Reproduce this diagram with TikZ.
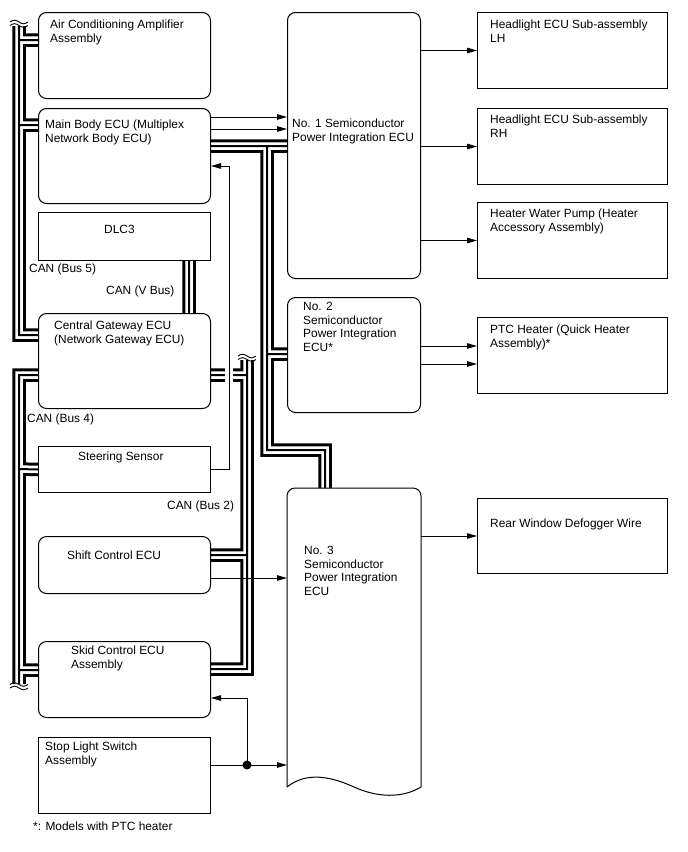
\documentclass[tikz,border=0pt]{standalone}
\usepackage{fontspec}
\setmainfont{Liberation Sans}
\usetikzlibrary{arrows.meta,positioning}
\pgfdeclarelayer{background}
\pgfsetlayers{background,main}
% wavy cut mark at the open end of a bus
\newcommand{\buswave}[1]{\draw[cut] ([xshift=-9pt]#1) sin ++(4.5,-1.8) cos ++(4.5,1.8) sin ++(4.5,1.8) cos ++(4.5,-1.8);}

\begin{document}
\begin{tikzpicture}[x=1pt,y=-1pt,
  ecu/.style={draw,line width=1pt,rounded corners=8pt,fill=white,anchor=north west,inner sep=0pt},
  part/.style={draw,line width=1pt,fill=white,anchor=north west,inner sep=0pt},
  txt/.style={anchor=north west,inner sep=0pt,align=left,font=\fontsize{11.9}{13.7}\selectfont},
  sig/.style={line width=0.9pt,-{Triangle[length=10pt,width=5.5pt]}},
  cut/.style={line width=0.9pt},
  canroutes/.style={insert path={
    (19,26) |- (cgw.west |- 0,335)
    (19,40) -- (acamp.west |- 0,40)
    (19,125) -- (mbecu.west |- 0,125)
    (cgw.west |- 0,375) -| (19,684)
    (19,469) -- (strg.west)
    (19,670) -- (skid.west |- 0,670)
    (dlc.south -| 189,0) -- (cgw.north -| 189,0)
    (247,360) |- (skid.east |- 0,669)
    (cgw.east |- 0,375) -- (247,375)
    (shift.east |- 0,555) -- (247,555)
    (mbecu.east |- 0,146) -- (ipd1.west |- 0,146)
    (267,146) |- (325,450) -- (ipd3.north -| 325,0)
    (267,354) -- (ipd2.west |- 0,354)}}]
\useasboundingbox (0,0) rectangle (688,852);

% left column
\node[ecu,minimum width=172pt,minimum height=86pt] (acamp) at (38,12) {};
\node[ecu,minimum width=172pt,minimum height=95pt] (mbecu) at (38,108) {};
\node[part,minimum width=172pt,minimum height=48pt] (dlc) at (38,212) {};
\node[ecu,minimum width=172pt,minimum height=95pt] (cgw) at (38,313) {};
\node[part,minimum width=172pt,minimum height=46pt] (strg) at (38,446) {};
\node[ecu,minimum width=172pt,minimum height=57pt] (shift) at (38,536) {};
\node[ecu,minimum width=172pt,minimum height=76pt] (skid) at (38,641) {};
\node[part,minimum width=172pt,minimum height=76pt] (stop) at (38,737) {};

% power integration ECUs
\node[ecu,minimum width=133pt,minimum height=266pt] (ipd1) at (287,12) {};
\node[ecu,minimum width=133pt,minimum height=115pt] (ipd2) at (287,297) {};
\node[part,draw=none,minimum width=133pt,minimum height=298pt] (ipd3) at (287,488) {};
\draw[line width=1pt,rounded corners=8pt] (ipd3.south west) -- (ipd3.north west) -- (ipd3.north east) -- (ipd3.south east);
\draw[line width=1pt] (ipd3.south west) .. controls +(20,-16) and +(-22,-10) .. (ipd3.south) .. controls +(22,10) and +(-20,12) .. (ipd3.south east);

% loads
\node[part,minimum width=190pt,minimum height=76pt] (hlh) at (477,12) {};
\node[part,minimum width=190pt,minimum height=76pt] (hrh) at (477,108) {};
\node[part,minimum width=190pt,minimum height=76pt] (hwp) at (477,202) {};
\node[part,minimum width=190pt,minimum height=76pt] (ptc) at (477,317) {};
\node[part,minimum width=190pt,minimum height=75pt] (defog) at (477,498) {};

% texts
\node[txt,below right=8pt and 12pt of acamp.north west] (acampt) {Air Conditioning Amplifier\\Assembly};
\node[txt,below right=12pt and 7pt of mbecu.north west] (mbecut) {Main Body ECU (Multiplex\\Network Body ECU)};
\node[txt,below right=13pt and 66pt of dlc.north west] (dlct) {DLC3};
\node[txt,below right=8pt and 16pt of cgw.north west] (cgwt) {Central Gateway ECU\\(Network Gateway ECU)};
\node[txt,below right=6pt and 40pt of strg.north west] (strgt) {Steering Sensor};
\node[txt,below right=15pt and 29pt of shift.north west] (shiftt) {Shift Control ECU};
\node[txt,below right=5pt and 33pt of skid.north west] (skidt) {Skid Control ECU\\Assembly};
\node[txt,below right=5pt and 7pt of stop.north west] (stopt) {Stop Light Switch\\Assembly};
\node[txt,below right=107pt and 5pt of ipd1.north west] (ipd1t) {No. 1 Semiconductor\\Power Integration ECU};
\node[txt,below right=5pt and 16pt of ipd2.north west] (ipd2t) {No. 2\\Semiconductor\\Power Integration\\ECU*};
\node[txt,below right=58pt and 17pt of ipd3.north west] (ipd3t) {No. 3\\Semiconductor\\Power Integration\\ECU};
\node[txt,below right=8pt and 13pt of hlh.north west] (hlht) {Headlight ECU Sub-assembly\\LH};
\node[txt,below right=7pt and 13pt of hrh.north west] (hrht) {Headlight ECU Sub-assembly\\RH};
\node[txt,below right=7pt and 13pt of hwp.north west] (hwpt) {Heater Water Pump (Heater\\Accessory Assembly)};
\node[txt,below right=8pt and 13pt of ptc.north west] (ptct) {PTC Heater (Quick Heater\\Assembly)*};
\node[txt,below right=21pt and 13pt of defog.north west] (defogt) {Rear Window Defogger Wire};

% bus names
\node[txt] (can5) at (29,264) {CAN (Bus 5)};
\node[txt] (canv) at (106,286) {CAN (V Bus)};
\node[txt] (can4) at (27,414) {CAN (Bus 4)};
\node[txt] (can2) at (167,501) {CAN (Bus 2)};
\node[txt] (note) at (33,822) {*: Models with PTC heater};

% CAN buses
\begin{pgfonlayer}{background}
\foreach \lw/\lc in {13.5pt/black,7.5pt/white,2pt/black}
  \draw[line width=\lw,draw=\lc,line join=miter,canroutes];
\end{pgfonlayer}
\buswave{19,22}
\buswave{19,25.5}
\buswave{19,684.5}
\buswave{19,688}
\buswave{247,356}
\buswave{247,359.5}

% signal lines
\coordinate (xing) at (229,375);
\draw[white,line width=8pt] ([yshift=7pt]xing) -- ([yshift=-7pt]xing);
\draw[sig] (strg.east) -| (229,166) -- (mbecu.east |- 0,166);
\draw[sig] (mbecu.east |- 0,117) -- (ipd1.west |- 0,117);
\draw[sig] (mbecu.east |- 0,129) -- (ipd1.west |- 0,129);
\draw[sig] (ipd1.east |- hlh.west) -- (hlh.west);
\draw[sig] (ipd1.east |- hrh.west) -- (hrh.west);
\draw[sig] (ipd1.east |- hwp.west) -- (hwp.west);
\draw[sig] (ipd2.east |- 0,346) -- (ptc.west |- 0,346);
\draw[sig] (ipd2.east |- 0,364) -- (ptc.west |- 0,364);
\draw[sig] (ipd3.east |- defog.west) -- (defog.west);
\draw[sig] (shift.east |- 0,578) -- (ipd3.west |- 0,578);
\coordinate (jct) at (247,765);
\draw[sig] (stop.east |- jct) -- (ipd3.west |- jct);
\draw[sig] (jct) |- (skid.east |- 0,698);
\fill (jct) circle[radius=4.5pt];
\end{tikzpicture}
\end{document}
